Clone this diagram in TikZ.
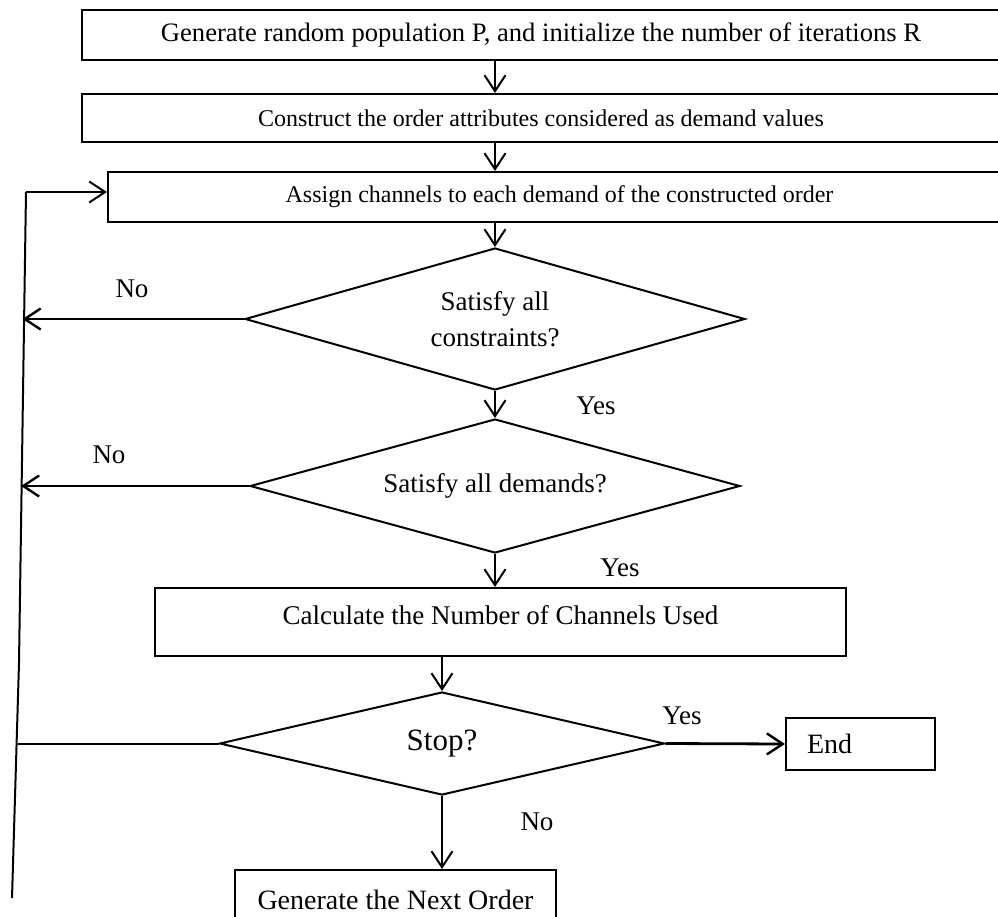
\documentclass[tikz,border=0pt]{standalone}
\usepackage{fontspec}
\setmainfont{Liberation Serif}
\usetikzlibrary{shapes.geometric,arrows.meta}

\tikzset{
  blocco/.style={draw, line width=1pt, rectangle, inner sep=0pt, font=\fontsize{12}{14}\selectfont},
  rombo/.style={draw, line width=1pt, diamond, inner sep=0pt, align=center, font=\fontsize{13.5}{18}\selectfont},
  freccia/.style={line width=1pt, -{Straight Barb[length=8pt,width=10.5pt,line width=1pt]}},
  ramo/.style={line width=1.4pt, -{Straight Barb[length=8pt,width=10.5pt,line width=1.2pt]}},
  etichetta/.style={inner sep=0pt, font=\fontsize{13.5}{16}\selectfont}
}

\begin{document}
\begin{tikzpicture}[x=0.5pt, y=-0.5pt]
    \useasboundingbox (0,0) rectangle (998,917);
    \clip (0,0) rectangle (998,917);

    % Blocchi iniziali (tagliati sul bordo destro)
    \node[blocco, minimum width=459pt, minimum height=25pt, font=\fontsize{13.3}{16}\selectfont] (genera) at (541,35) {Generate random population P, and initialize the number of iterations R};
    \node[blocco, minimum width=459pt, minimum height=24pt] (costruisci) at (541,118) {Construct the order attributes considered as demand values};
    \node[blocco, minimum width=451.5pt, minimum height=25pt] (assegna) at (559.5,197) {Assign channels to each demand of the constructed order};

    % Rombi di decisione e blocchi successivi
    \node[rombo, shape aspect=3.5, minimum width=250pt, minimum height=71pt] (vincoli) at (495,319) {Satisfy all\\constraints?};
    \node[rombo, shape aspect=3.65, minimum width=245pt, minimum height=67pt] (domande) at (495,486) {Satisfy all demands?};
    \node[blocco, minimum width=345.5pt, minimum height=34pt, text depth=7pt, font=\fontsize{13.5}{16}\selectfont] (calcola) at (500.5,622) {Calculate the Number of Channels Used};
    \node[rombo, shape aspect=4.3, minimum width=222.5pt, minimum height=51.5pt, font=\fontsize{15.5}{18}\selectfont] (stop) at (442,743.5) {Stop?};
    \node[blocco, text width=53.5pt, inner xsep=10.5pt, align=left, minimum height=26pt, font=\fontsize{14}{16}\selectfont] (fine) at (860.5,744) {End};
    \node[blocco, minimum width=160.5pt, minimum height=30pt, font=\fontsize{14}{16}\selectfont] (prossimo) at (395.5,900) {Generate the Next Order};

    % Linea di ritorno a sinistra
    \coordinate (anelloAlto) at (26,192);
    \coordinate (anelloA) at (22.5,318);
    \coordinate (anelloB) at (21,486);
    \coordinate (anelloC) at (17.5,742);
    \coordinate (anelloMezzo) at (19,663);
    \coordinate (anelloBasso) at (12,898);

    % Frecce principali
    \draw[freccia] (genera.south -| vincoli.north) -- (costruisci.north -| vincoli.north);
    \draw[freccia] (costruisci.south -| vincoli.north) -- (assegna.north -| vincoli.north);
    \draw[freccia] (assegna.south -| vincoli.north) -- (vincoli.north);
    \draw[freccia] (vincoli.south) -- (domande.north);
    \draw[freccia] (domande.south) -- (domande.south |- calcola.north);
    \draw[freccia] (calcola.south -| stop.north) -- (stop.north);
    \draw[ramo] (stop.east) -- (fine.west);
    \draw[freccia] (stop.south) -- (stop.south |- prossimo.north);

    % Rami "No" verso la linea di ritorno
    \draw[ramo] (vincoli.west) -- (vincoli.west -| anelloA);
    \draw[ramo] (domande.west) -- (domande.west -| anelloB);
    \draw[line width=1pt] (stop.west) -- (stop.west -| anelloC);
    \draw[line width=1pt] (anelloBasso) -- (anelloMezzo) -- (anelloAlto);
    \draw[freccia] (anelloAlto) -- (anelloAlto -| assegna.west);

    % Etichette
    \node[etichetta] (no1) at (132,289) {No};
    \node[etichetta] (no2) at (109,455) {No};
    \node[etichetta] (si1) at (596,406) {Yes};
    \node[etichetta] (si2) at (620,568) {Yes};
    \node[etichetta] (si3) at (682,716) {Yes};
    \node[etichetta] (no3) at (537,822) {No};
\end{tikzpicture}
\end{document}
